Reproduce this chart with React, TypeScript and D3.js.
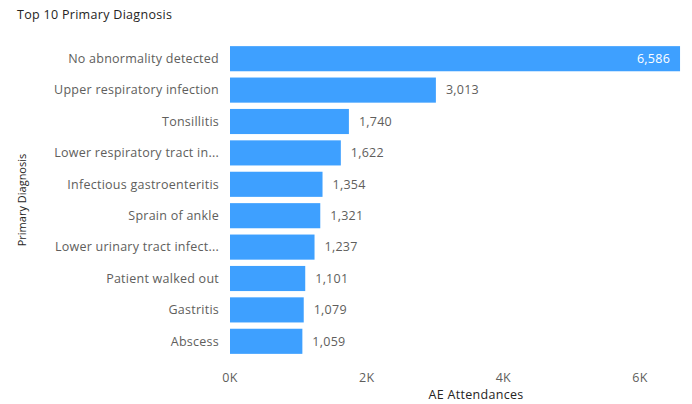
import React from "react";
import * as d3 from "d3";

const categories = [
  "No abnormality detected",
  "Upper respiratory infection",
  "Tonsillitis",
  "Lower respiratory tract in...",
  "Infectious gastroenteritis",
  "Sprain of ankle",
  "Lower urinary tract infect...",
  "Patient walked out",
  "Gastritis",
  "Abscess",
];
const values = [6586, 3013, 1740, 1622, 1354, 1321, 1237, 1101, 1079, 1059];
const xTicks = [0, 2000, 4000, 6000];
const tickLabels = ["0K", "2K", "4K", "6K"];

const W = 692;
const H = 404;
const FONT = "'Open Sans', sans-serif";

export default function App() {
  const x = d3.scaleLinear().domain([0, 6000]).range([230, 640]);
  const y = d3.scaleBand<string>().domain(categories).range([43, 357]).paddingInner(0.2).paddingOuter(0.1);
  const fmt = d3.format(",");
  return (
    <svg width={W} height={H} style={{ position: "absolute", left: 0, top: 0 }}>
      <rect width={W} height={H} fill="#fff" />
      <text x={17} y={19} fontFamily={FONT} fontSize={12.5} letterSpacing={0.3} fill="#252423">
        Top 10 Primary Diagnosis
      </text>
      <text
        transform={`translate(26,${(y.range()[0] + y.range()[1]) / 2}) rotate(-90)`}
        textAnchor="middle"
        fontFamily={FONT}
        fontSize={11}
        fill="#252423"
      >
        Primary Diagnosis
      </text>
      {categories.map((c, i) => {
        const yy = y(c)!;
        const bw = y.bandwidth();
        const x1 = x(values[i]);
        const inside = x1 > 600;
        return (
          <g key={c}>
            <text
              x={219}
              y={yy + bw / 2}
              dy="0.35em"
              textAnchor="end"
              fontFamily={FONT}
              fontSize={12.5}
              letterSpacing={0.25}
              fill="#605E5C"
            >
              {c}
            </text>
            <rect x={x(0)} y={yy} width={x1 - x(0)} height={bw} fill="#3EA0FF" />
            <text
              x={inside ? x1 - 10 : x1 + 10}
              y={yy + bw / 2}
              dy="0.35em"
              textAnchor={inside ? "end" : "start"}
              fontFamily={FONT}
              fontSize={12.5}
              letterSpacing={0.25}
              fill={inside ? "#ffffff" : "#605E5C"}
            >
              {fmt(values[i])}
            </text>
          </g>
        );
      })}
      {xTicks.map((t, i) => (
        <text
          key={t}
          x={x(t)}
          y={378}
          dy="0.35em"
          textAnchor="middle"
          fontFamily={FONT}
          fontSize={12.5}
          letterSpacing={0.25}
          fill="#605E5C"
        >
          {tickLabels[i]}
        </text>
      ))}
      <text x={476} y={395} dy="0.35em" textAnchor="middle" fontFamily={FONT} fontSize={12.5} letterSpacing={0.3} fill="#252423">
        AE Attendances
      </text>
    </svg>
  );
}
